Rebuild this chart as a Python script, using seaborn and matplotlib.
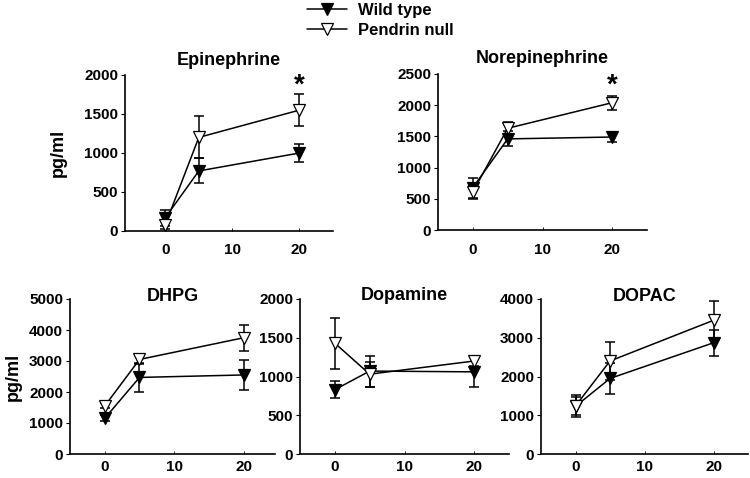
import numpy as np
import pandas as pd
import matplotlib
matplotlib.use("Agg")
import matplotlib.pyplot as plt
import seaborn as sns
from matplotlib.lines import Line2D

# minutes
times = [0, 5, 20]
groups = ["Wild type", "Pendrin null"]

epi_wt = [170, 770, 1000]
epi_wt_err = [100, 160, 120]
epi_pn = [80, 1200, 1550]
epi_pn_err = [50, 270, 200]

ne_wt = [680, 1460, 1490]
ne_wt_err = [160, 120, 80]
ne_pn = [610, 1630, 2040]
ne_pn_err = [110, 100, 110]

dhpg_wt = [1150, 2470, 2550]
dhpg_wt_err = [100, 480, 470]
dhpg_pn = [1550, 3050, 3750]
dhpg_pn_err = [80, 150, 420]

dopa_wt = [830, 1070, 1060]
dopa_wt_err = [110, 200, 200]
dopa_pn = [1430, 1030, 1200]
dopa_pn_err = [330, 160, 70]

dopac_wt = [1230, 1950, 2870]
dopac_wt_err = [280, 400, 330]
dopac_pn = [1240, 2400, 3450]
dopac_pn_err = [230, 490, 510]

sns.set_style("white")
plt.rcParams['font.family'] = ['Liberation Sans', 'DejaVu Sans']
plt.rcParams['font.weight'] = 'bold'
for key in ['text.color', 'axes.labelcolor', 'xtick.color', 'ytick.color']:
    plt.rcParams[key] = 'black'


def make_df(wt, wt_err, pn, pn_err):
    return pd.DataFrame({
        "time": times * 2,
        "value": wt + pn,
        "err": wt_err + pn_err,
        "group": [groups[0]] * 3 + [groups[1]] * 3,
    })


def draw_panel(ax, df, title, ymax, ystep, xlim, title_y, xpad, star=None, ylabel=None, ylabel_x=None):
    for grp, face in zip(groups, ["black", "white"]):
        sub = df[df.group == grp]
        ax.errorbar(sub.time, sub.value, yerr=sub.err, fmt='none', ecolor='black',
                    elinewidth=1.1, capsize=3.5, capthick=1.1, zorder=2)
        sns.lineplot(data=sub, x="time", y="value", ax=ax, color='black', lw=1.1,
                     marker='v', ms=9, markerfacecolor=face, markeredgecolor='black',
                     markeredgewidth=0.9, zorder=3, legend=False)
    ax.set_xlim(*xlim)
    ax.set_ylim(0, ymax)
    ax.set_xticks([0, 10, 20])
    ax.set_yticks(np.arange(0, ymax + 1, ystep))
    ax.set_xlabel("")
    ax.set_ylabel("")
    for s in ["top", "right"]:
        ax.spines[s].set_visible(False)
    for s in ["left", "bottom"]:
        ax.spines[s].set_color('black')
        ax.spines[s].set_linewidth(1.2)
    ax.tick_params(axis='y', direction='out', length=3, width=0.8, labelsize=11, pad=2, left=True)
    ax.tick_params(axis='x', direction='in', length=2, width=0.6, labelsize=11, pad=xpad, bottom=True)
    for lab in ax.get_xticklabels() + ax.get_yticklabels():
        lab.set_fontweight('bold')
    ax.text(0.5, title_y, title, transform=ax.transAxes, ha='center', va='baseline',
            fontsize=13, fontweight='bold')
    if star is not None:
        ax.text(star[0], star[1], '*', ha='center', va='center', fontsize=20, fontweight='bold')
    if ylabel:
        ax.set_ylabel(ylabel, fontsize=13, fontweight='bold')
        ax.yaxis.set_label_coords(ylabel_x, 0.5)


fig = plt.figure(figsize=(7.5, 4.78), dpi=100)
ax_epi = fig.add_axes([125 / 750, 247 / 478, 208 / 750, 156 / 478])
ax_ne = fig.add_axes([438 / 750, 248 / 478, 209 / 750, 156 / 478])
ax_dhpg = fig.add_axes([70 / 750, 24 / 478, 205 / 750, 155 / 478])
ax_dopa = fig.add_axes([300 / 750, 24 / 478, 209 / 750, 155 / 478])
ax_dopac = fig.add_axes([541 / 750, 24 / 478, 207 / 750, 155 / 478])

draw_panel(ax_epi, make_df(epi_wt, epi_wt_err, epi_pn, epi_pn_err), "Epinephrine",
           2000, 500, (-6, 25), 1.064, 9, star=(20, 1870), ylabel="pg/ml", ylabel_x=-0.279)
draw_panel(ax_ne, make_df(ne_wt, ne_wt_err, ne_pn, ne_pn_err), "Norepinephrine",
           2500, 500, (-5, 25), 1.07, 9, star=(20, 2310))
draw_panel(ax_dhpg, make_df(dhpg_wt, dhpg_wt_err, dhpg_pn, dhpg_pn_err), "DHPG",
           5000, 1000, (-5, 24.5), 0.99, 4.5, ylabel="pg/ml", ylabel_x=-0.234)
draw_panel(ax_dopa, make_df(dopa_wt, dopa_wt_err, dopa_pn, dopa_pn_err), "Dopamine",
           2000, 500, (-5, 25), 0.995, 4.5)
draw_panel(ax_dopac, make_df(dopac_wt, dopac_wt_err, dopac_pn, dopac_pn_err), "DOPAC",
           4000, 1000, (-5, 25), 0.99, 4.5)

handles = [Line2D([], [], color='black', lw=1.1, marker='v', ms=9, markerfacecolor=f,
                  markeredgecolor='black', markeredgewidth=0.9) for f in ["black", "white"]]
fig.legend(handles, groups, loc='upper left', bbox_to_anchor=(304 / 750, 1.0),
           frameon=False, handlelength=2.4, handletextpad=0.7, labelspacing=0.35,
           borderpad=0.15, borderaxespad=0, prop={'weight': 'bold', 'size': 12})

fig.savefig("out.png", dpi=100)
